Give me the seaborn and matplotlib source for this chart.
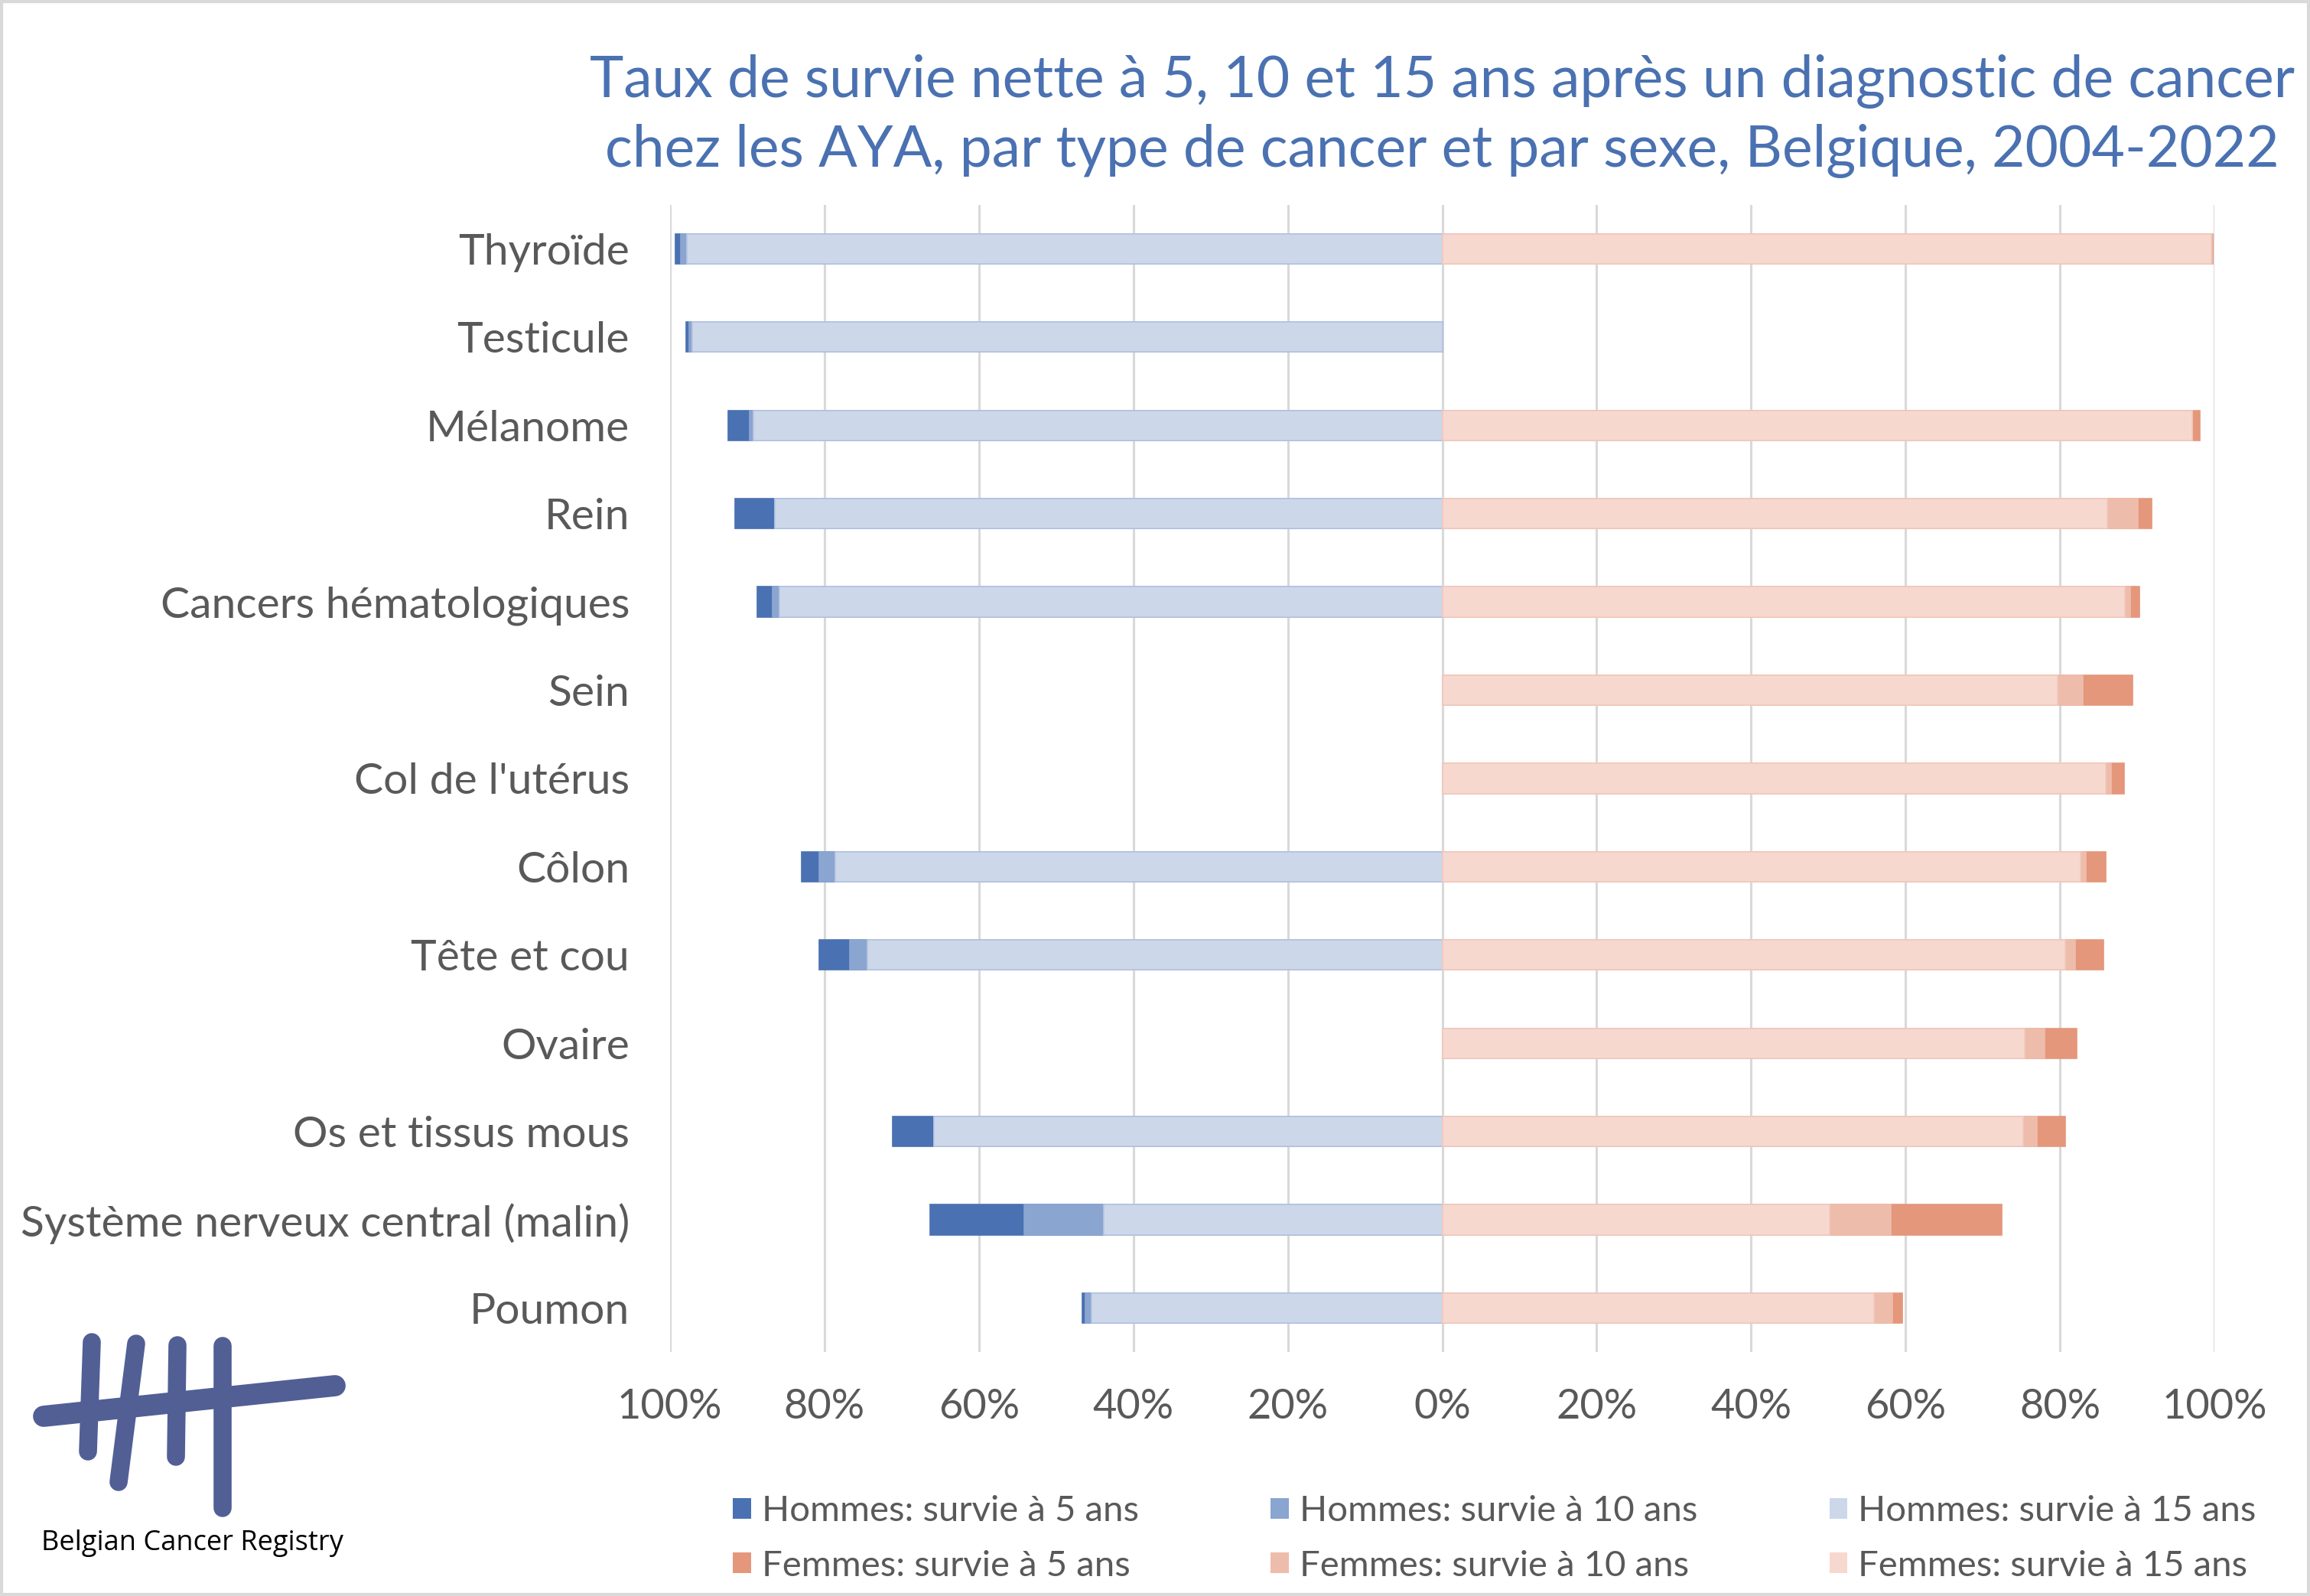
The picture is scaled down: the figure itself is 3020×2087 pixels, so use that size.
import matplotlib
matplotlib.use("Agg")
import matplotlib.pyplot as plt
import matplotlib.patches as mpatches
import seaborn as sns
import pandas as pd
import numpy as np

nan = np.nan

CATEGORIES = ["Thyroïde", "Testicule", "Mélanome", "Rein", "Cancers hématologiques", "Sein",
              "Col de l'utérus", "Côlon", "Tête et cou", "Ovaire", "Os et tissus mous",
              "Système nerveux central (malin)", "Poumon"]

# survie nette (%)
MEN_5 = [99.3, 97.9, 92.5, 91.6, 88.7, nan, nan, 82.9, 80.7, nan, 71.2, 66.3, 46.6]
MEN_10 = [98.6, 97.5, 89.7, 86.4, 86.7, nan, nan, 80.7, 76.7, nan, 65.8, 54.1, 46.2]
MEN_15 = [97.8, 97.1, 89.2, 86.4, 85.8, nan, nan, 78.6, 74.4, nan, 65.8, 43.8, 45.4]
WOMEN_5 = [99.8, nan, 98.1, 91.9, 90.3, 89.4, 88.3, 85.9, 85.6, 82.1, 80.7, 72.4, 59.6]
WOMEN_10 = [99.7, nan, 97.1, 90.1, 89.1, 82.9, 86.6, 83.3, 81.9, 78.0, 77.0, 58.1, 58.3]
WOMEN_15 = [99.6, nan, 97.1, 86.1, 88.4, 79.7, 85.9, 82.6, 80.7, 75.4, 75.2, 50.2, 55.9]

XTICKS = [-100, -80, -60, -40, -20, 0, 20, 40, 60, 80, 100]

TITLE = ("Taux de survie nette à 5, 10 et 15 ans après un diagnostic de cancer\n"
         "chez les AYA, par type de cancer et par sexe, Belgique, 2004-2022")

SERIES = [
    ("Hommes: survie à 5 ans", MEN_5, -1, "#4a71b1", "#4a71b1"),
    ("Hommes: survie à 10 ans", MEN_10, -1, "#8aa5d0", "#8aa5d0"),
    ("Hommes: survie à 15 ans", MEN_15, -1, "#ccd7ea", "#b7c6e2"),
    ("Femmes: survie à 5 ans", WOMEN_5, 1, "#e4977b", "#e4977b"),
    ("Femmes: survie à 10 ans", WOMEN_10, 1, "#eebcab", "#eebcab"),
    ("Femmes: survie à 15 ans", WOMEN_15, 1, "#f6d8cf", "#f0cabe"),
]

TEXT_COLOR = "#595959"
TITLE_COLOR = "#4a71b1"

sns.set_style("white")
plt.rcParams["font.family"] = ["Lato", "DejaVu Sans"]

fig = plt.figure(figsize=(15.1, 10.435), dpi=200)
ax = fig.add_axes([0.290, 0.1528, 0.6687, 0.7189])

handles = {}
for name, values, sign, color, edge in SERIES:
    df = pd.DataFrame({"cancer": CATEGORIES, "survie": [sign * v for v in values]})
    df = df.dropna()
    sns.barplot(data=df, x="survie", y="cancer", order=CATEGORIES, color=color,
                saturation=1, width=0.34, errorbar=None, edgecolor=edge,
                linewidth=0.6, ax=ax)
    handles[name] = mpatches.Patch(facecolor=color, edgecolor="none")

ax.set_xlim(-100, 100)
ax.set_ylim(len(CATEGORIES) - 0.5, -0.5)
ax.set_xticks(XTICKS)
ax.set_xticklabels([f"{abs(t)}%" for t in XTICKS], fontsize=19.5, color=TEXT_COLOR)
ax.tick_params(axis="x", length=0, pad=17)
ax.tick_params(axis="y", length=0, pad=19, labelsize=20.5, labelcolor=TEXT_COLOR)
ax.set_xlabel("")
ax.set_ylabel("")
ax.grid(axis="x", color="#d9d9d9", linewidth=1.1)
ax.grid(axis="y", visible=False)
ax.set_axisbelow(True)
for s in ax.spines.values():
    s.set_visible(False)

ax.set_title(TITLE, fontsize=27, color=TITLE_COLOR, linespacing=1.36, pad=18)

order = ["Hommes: survie à 5 ans", "Femmes: survie à 5 ans",
         "Hommes: survie à 10 ans", "Femmes: survie à 10 ans",
         "Hommes: survie à 15 ans", "Femmes: survie à 15 ans"]
leg = fig.legend([handles[k] for k in order], order, ncol=3, loc="center",
                 bbox_to_anchor=(0.647, 0.036), frameon=False, fontsize=17,
                 handlelength=0.5, handleheight=0.5, handletextpad=0.3,
                 columnspacing=3.65, labelspacing=0.62)
for t in leg.get_texts():
    t.set_color(TEXT_COLOR)

# cadre et logo
bg = fig.add_axes([0, 0, 1, 1], zorder=-1)
bg.set_xlim(0, 3020)
bg.set_ylim(2087, 0)
bg.axis("off")
bg.add_patch(mpatches.Rectangle((2, 2), 3016, 2083, fill=False, edgecolor="#d9d9d9", linewidth=1.5))
logo = "#515f95"
strokes = [((57, 1852), (438, 1812), 10),
           ((120, 1755), (115, 1898), 8.5),
           ((178, 1757), (155, 1938), 8.5),
           ((232, 1759), (230, 1905), 8.5),
           ((291, 1760), (291, 1972), 8.5)]
for (x0, y0), (x1, y1), lw in strokes:
    bg.plot([x0, x1], [y0, y1], color=logo, linewidth=lw, solid_capstyle="round")
bg.text(54, 2018, "Belgian Cancer Registry", fontsize=13, color="black",
        family=["Open Sans", "DejaVu Sans"], va="center", ha="left")

fig.savefig("out.png", dpi=200)
